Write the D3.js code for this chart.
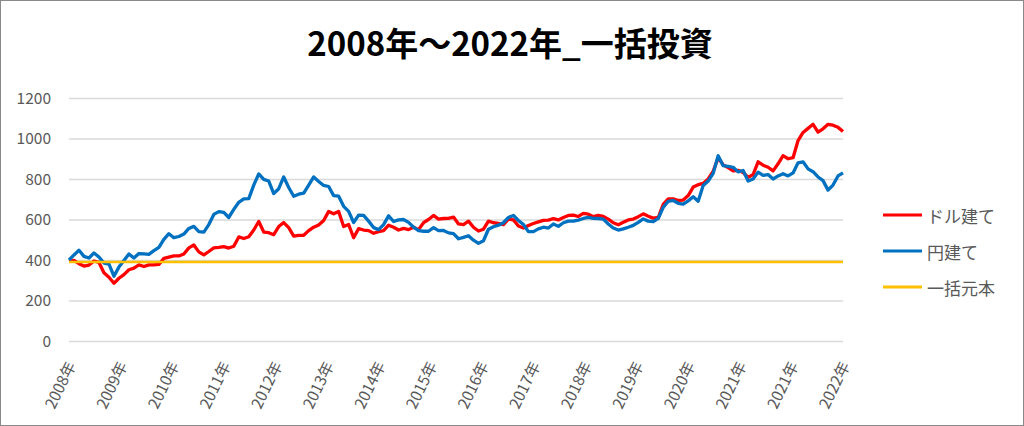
<!DOCTYPE html>
<html><head><meta charset="utf-8">
<script src="https://cdn.jsdelivr.net/npm/d3@7"></script>
<style>body{margin:0;background:#fff} svg{display:block}</style>
</head><body>
<svg id="c" width="1024" height="426"></svg>
<script>
const title = "2008年～2022年_一括投資";
const xTickLabels = ["2008年","2009年","2010年","2011年","2012年","2013年","2014年","2015年","2016年","2017年","2018年","2019年","2020年","2021年","2021年","2022年"];
const yTicks = [0, 200, 400, 600, 800, 1000, 1200];
const seriesNames = ["ドル建て", "円建て", "一括元本"];
const seriesColors = ["#FF0000", "#0070C0", "#FFC000"];

const dollarValues = [393,398,382,370,375,395,388,337,315,285,310,328,352,360,376,368,376,376,378,408,
414,420,420,430,460,474,440,425,442,460,462,466,459,468,514,506,515,548,590,538,
535,525,565,585,560,518,522,522,545,562,573,595,640,628,640,565,575,510,555,548,
545,532,540,545,572,562,548,556,550,562,550,584,600,620,602,605,606,612,578,575,
592,562,543,552,592,584,581,575,602,598,568,558,570,580,588,596,597,604,598,610,
620,622,615,630,626,614,620,615,602,584,574,586,598,602,614,628,616,607,610,675,
702,702,694,696,718,760,772,778,800,838,905,870,856,840,843,832,808,822,885,868,
858,840,875,915,900,905,990,1030,1050,1070,1032,1048,1070,1066,1055,1035];

const yenValues = [400,425,448,418,410,435,415,385,380,320,365,398,430,410,432,430,428,446,462,502,
530,510,516,528,556,566,540,538,575,625,639,635,610,650,685,702,703,770,825,798,
790,728,752,810,758,715,725,730,770,810,788,768,763,718,715,665,640,585,622,620,
592,560,550,575,618,590,598,600,586,562,545,542,542,560,545,546,534,530,505,512,
520,498,482,495,552,564,572,584,610,620,595,575,540,540,554,562,558,578,566,584,
592,592,597,605,610,606,605,602,578,558,548,554,562,571,586,603,592,589,605,660,
690,694,680,676,692,712,690,768,790,828,915,866,862,858,835,842,790,800,834,818,
822,800,815,826,815,830,880,885,850,836,810,792,745,770,815,830];

const principalValue = 390;

const svg = d3.select("#c");
const W = 1024, H = 426;
const plot = {left: 69, right: 843, top: 98, bottom: 341};
const JP = "'Noto Sans CJK JP', 'Noto Sans', sans-serif";

svg.append("rect").attr("x", 0.5).attr("y", 0.5).attr("width", W - 1).attr("height", H - 1)
  .attr("fill", "#fff").attr("stroke", "#898989").attr("stroke-width", 1);

const N = dollarValues.length;
const x = d3.scaleLinear().domain([0, N - 1]).range([plot.left, plot.right]);
const y = d3.scaleLinear().domain([0, 1200]).range([plot.bottom, plot.top]);
const xl = d3.scalePoint().domain(d3.range(xTickLabels.length)).range([plot.left, plot.right]);

// gridlines
svg.append("g").selectAll("line").data(yTicks).join("line")
  .attr("x1", plot.left).attr("x2", plot.right)
  .attr("y1", d => y(d) + 0.5).attr("y2", d => y(d) + 0.5)
  .attr("stroke", "#d9d9d9").attr("stroke-width", 1.3);

// y axis labels
const yAxis = d3.axisLeft(y).tickValues(yTicks).tickFormat(d3.format("d")).tickSize(0).tickPadding(0);
const gy = svg.append("g").attr("transform", `translate(51,0)`).call(yAxis);
gy.select(".domain").remove();
gy.selectAll("text").attr("font-family", JP).attr("font-size", 15.5).attr("fill", "#595959").attr("dy", "0.35em");

// x axis labels
svg.append("g").selectAll("text").data(xTickLabels).join("text")
  .attr("transform", (d, i) => `translate(${xl(i) + 1},362) rotate(-64)`)
  .attr("text-anchor", "end").attr("dominant-baseline", "central")
  .attr("font-family", JP).attr("font-size", 15.5).attr("fill", "#595959")
  .text(d => d);

// lines
const line = d3.line().x((d, i) => x(i)).y(d => y(d));
svg.append("path").datum(dollarValues).attr("d", line).attr("fill", "none")
  .attr("stroke", seriesColors[0]).attr("stroke-width", 3.3).attr("stroke-linejoin", "round");
svg.append("path").datum(yenValues).attr("d", line).attr("fill", "none")
  .attr("stroke", seriesColors[1]).attr("stroke-width", 3.3).attr("stroke-linejoin", "round");
svg.append("line").attr("x1", x(0)).attr("x2", x(N - 1))
  .attr("y1", y(principalValue)).attr("y2", y(principalValue))
  .attr("stroke", seriesColors[2]).attr("stroke-width", 2.5);

// title
svg.append("text").attr("x", 510).attr("y", 56).attr("text-anchor", "middle")
  .attr("font-family", JP).attr("font-weight", "bold").attr("font-size", 33).attr("fill", "#000")
  .text(title);

// legend
const lg = svg.append("g").selectAll("g").data(seriesNames).join("g")
  .attr("transform", (d, i) => `translate(883,${215 + i * 36})`);
lg.append("line").attr("x1", 0).attr("x2", 39).attr("y1", 0).attr("y2", 0)
  .attr("stroke", (d, i) => seriesColors[i]).attr("stroke-width", 3);
lg.append("text").attr("x", 44).attr("y", 0).attr("dominant-baseline", "central")
  .attr("font-family", JP).attr("font-size", 17).attr("fill", "#595959").text(d => d);
</script>
</body></html>
